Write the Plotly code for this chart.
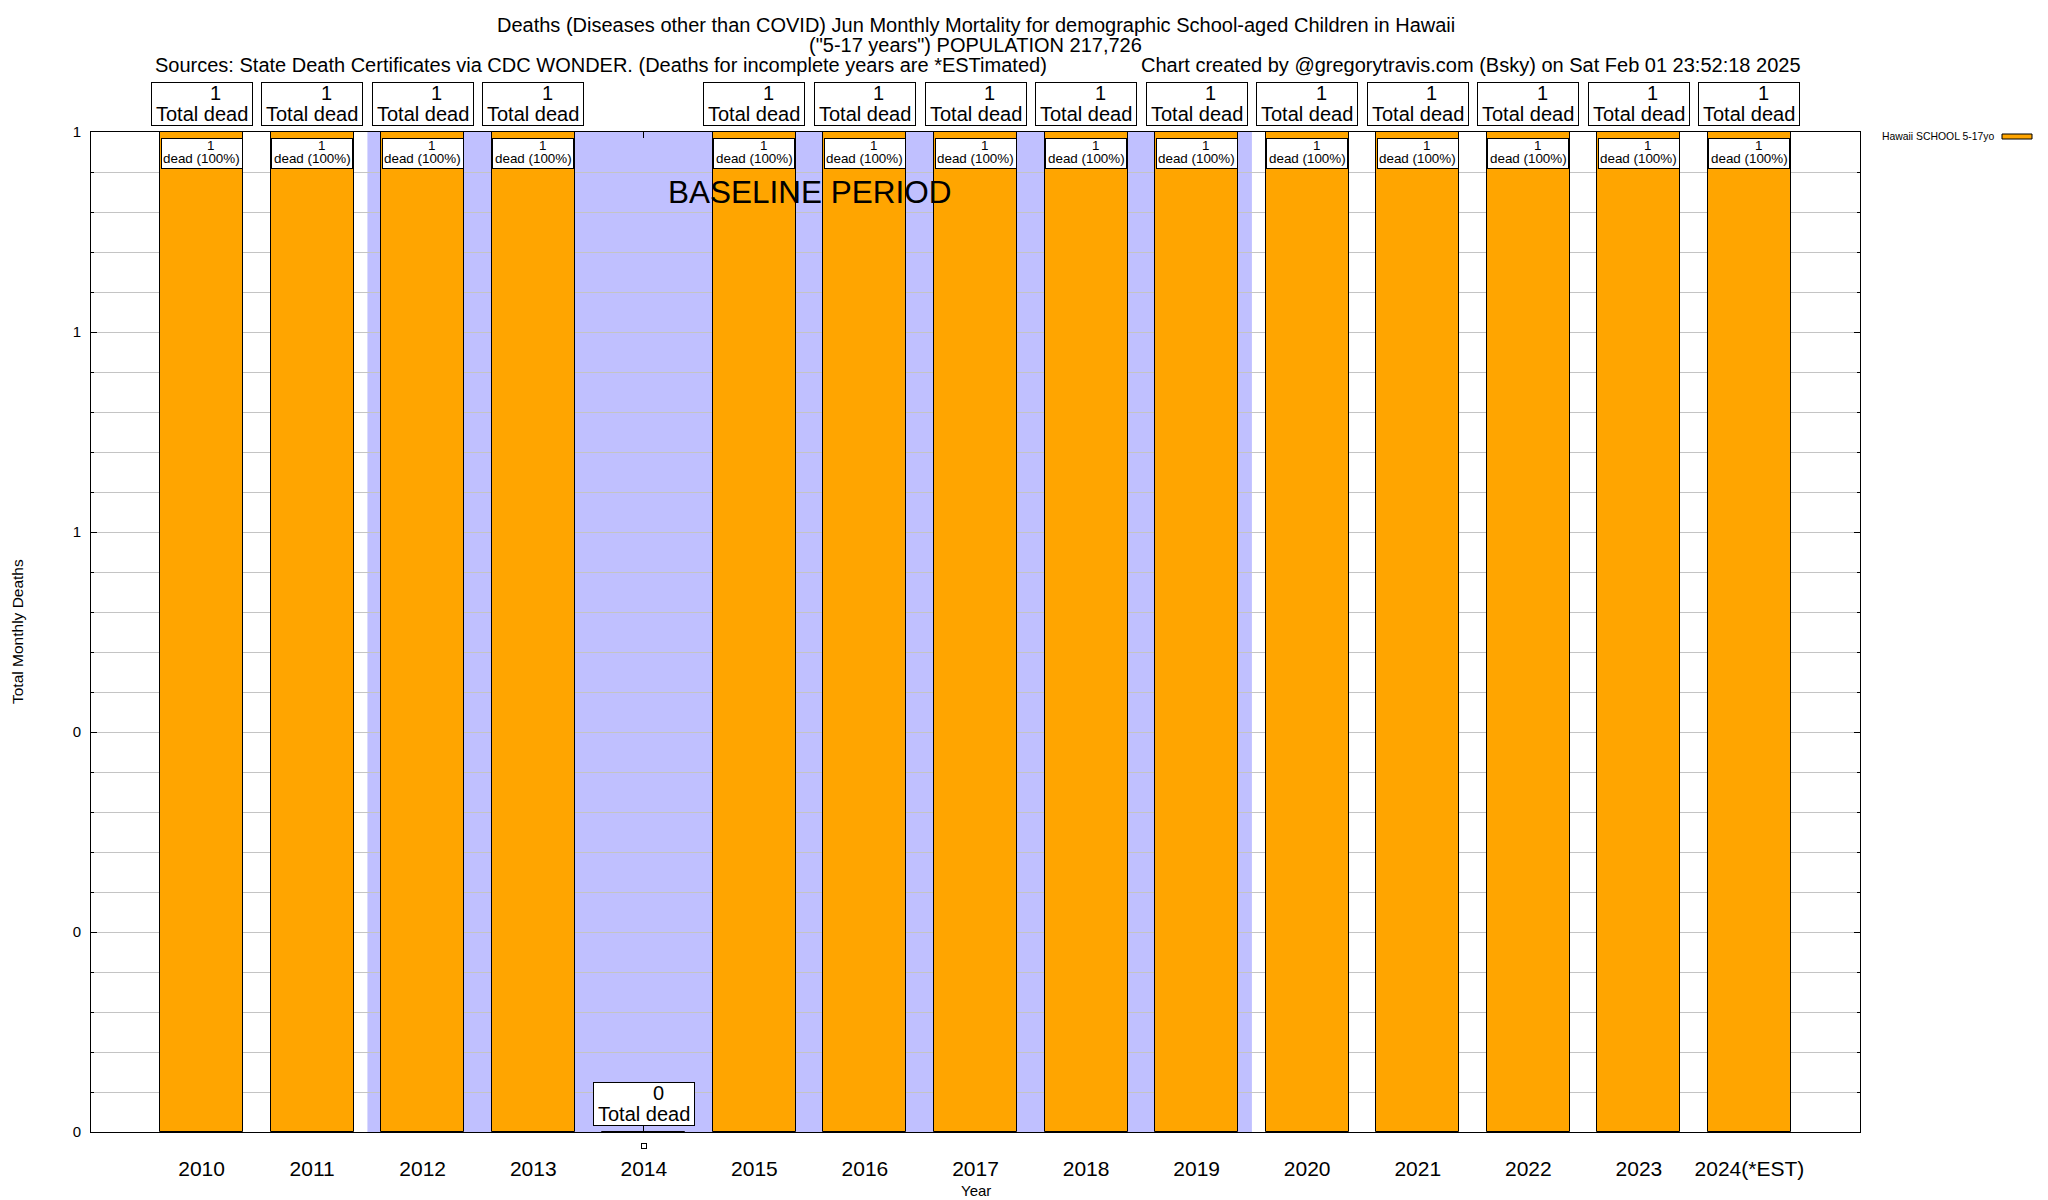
import plotly.graph_objects as go

# ---------------- data ----------------
years = [2010, 2011, 2012, 2013, 2014, 2015, 2016, 2017, 2018, 2019, 2020, 2021, 2022, 2023, 2024]
year_labels = ["2010", "2011", "2012", "2013", "2014", "2015", "2016", "2017", "2018", "2019",
               "2020", "2021", "2022", "2023", "2024(*EST)"]
deaths = [1, 1, 1, 1, 0, 1, 1, 1, 1, 1, 1, 1, 1, 1, 1]
pct_labels = ["100%", "100%", "100%", "100%", "", "100%", "100%", "100%", "100%", "100%",
              "100%", "100%", "100%", "100%", "100%"]
baseline_first_year = 2012
baseline_last_year = 2019
series_name = "Hawaii SCHOOL 5-17yo"
title_line1 = "Deaths (Diseases other than COVID) Jun Monthly Mortality for demographic School-aged Children in Hawaii"
title_line2 = "(\"5-17 years\") POPULATION 217,726"
title_left3 = "Sources: State Death Certificates via CDC WONDER. (Deaths for incomplete years are *ESTimated)"
title_right3 = "Chart created by @gregorytravis.com (Bsky) on Sat Feb 01 23:52:18 2025"

# ---------------- style ----------------
FONT = "Liberation Sans, Arial, Helvetica, sans-serif"
ORANGE = "#FFA500"
BLUE = "#C0C0FF"
GRID = "#C4C4C4"
BAR_W = 0.75
W, H = 2048, 1200
ML, MR, MT, MB = 91, 188, 132, 68
PW, PH = W - ML - MR, H - MT - MB


def px(xp):
    return (xp - ML) / PW


def py(yp):
    return (H - MB - yp) / PH


fig = go.Figure()
fig.add_trace(go.Bar(
    x=years, y=deaths, width=BAR_W, name=series_name,
    marker=dict(color=ORANGE, line=dict(color="black", width=1)),
    showlegend=False, hoverinfo="skip",
))

# baseline shading
fig.add_shape(type="rect", xref="x", yref="paper",
              x0=baseline_first_year - 0.5, x1=baseline_last_year + 0.5, y0=0, y1=1,
              fillcolor=BLUE, line=dict(width=0), layer="below")

annotations = []


def box(x, y, yanchor, yshift, w, h):
    return dict(x=x, y=y, xref="x", yref="y", yanchor=yanchor, yshift=yshift,
                text=" ", showarrow=False, font=dict(size=1),
                bgcolor="white", bordercolor="black", borderwidth=1, borderpad=0,
                width=w, height=h)


def txt(x, y, text, size, yshift, xshift=0):
    return dict(x=x, y=y, xref="x", yref="y", yanchor="middle", xanchor="center",
                yshift=yshift, xshift=xshift, text=text, showarrow=False,
                font=dict(family=FONT, size=size, color="black"))


for yr, d, p in zip(years, deaths, pct_labels):
    # "N / Total dead" box (above the plot for non-zero, on the axis for zero)
    annotations.append(box(yr, d, "bottom", 6, 100, 42))
    annotations.append(txt(yr, d, str(d), 20, 39, 14 if d > 0 else 15))
    annotations.append(txt(yr, d, "Total dead", 20, 18))
    if d > 0:
        annotations.append(box(yr, d, "top", -6, 80, 29))
        annotations.append(txt(yr, d, str(d), 13.4, -13, 9))
        annotations.append(txt(yr, d, f"dead ({p})", 13.4, -26))
    else:
        annotations.append(dict(
            x=yr, y=d, xref="x", yref="y", yanchor="middle", yshift=-14,
            text=" ", showarrow=False, font=dict(size=1),
            bgcolor="white", bordercolor="black", borderwidth=1, borderpad=0,
            width=4, height=4,
        ))

# baseline period label
annotations.append(dict(
    x=(baseline_first_year + baseline_last_year) / 2, y=py(192), xref="x", yref="paper",
    text="BASELINE PERIOD", showarrow=False, yanchor="middle", xanchor="center",
    font=dict(family=FONT, size=31.5, color="black"),
))

# titles
annotations += [
    dict(x=0.5, y=py(25), xref="paper", yref="paper", text=title_line1, showarrow=False,
         xanchor="center", yanchor="middle", font=dict(family=FONT, size=20, color="black")),
    dict(x=0.5, y=py(45), xref="paper", yref="paper", text=title_line2, showarrow=False,
         xanchor="center", yanchor="middle", font=dict(family=FONT, size=20, color="black")),
    dict(x=px(153), y=py(65), xref="paper", yref="paper", text=title_left3, showarrow=False,
         xanchor="left", yanchor="middle", font=dict(family=FONT, size=20, color="black")),
    dict(x=px(1139), y=py(65), xref="paper", yref="paper", text=title_right3, showarrow=False,
         xanchor="left", yanchor="middle", font=dict(family=FONT, size=20, color="black")),
    # axis titles
    dict(x=px(17), y=0.5, xref="paper", yref="paper", text="Total Monthly Deaths", showarrow=False,
         textangle=-90, xanchor="center", yanchor="middle",
         font=dict(family=FONT, size=15.5, color="black")),
    dict(x=0.5, y=py(1190), xref="paper", yref="paper", text="Year", showarrow=False,
         xanchor="center", yanchor="middle", font=dict(family=FONT, size=15, color="black")),
    # legend text
    dict(x=px(1996), y=py(136), xref="paper", yref="paper", text=series_name, showarrow=False,
         xanchor="right", yanchor="middle", font=dict(family=FONT, size=10.4, color="black")),
]

# legend swatch
fig.add_shape(type="rect", xref="paper", yref="paper",
              x0=px(2002), x1=px(2032), y0=py(139), y1=py(134),
              fillcolor=ORANGE, line=dict(color="black", width=1))

fig.update_layout(
    width=W, height=H,
    margin=dict(l=ML, r=MR, t=MT, b=MB, pad=0),
    paper_bgcolor="white", plot_bgcolor="white",
    font=dict(family=FONT, color="black"),
    showlegend=False,
    bargap=0,
    annotations=annotations,
)

fig.update_xaxes(
    range=[years[0] - 1, years[-1] + 1],
    tickmode="array", tickvals=years, ticktext=year_labels,
    tickfont=dict(family=FONT, size=21, color="black"),
    ticks="inside", ticklen=6, tickcolor="black", tickwidth=1,
    showline=True, linecolor="black", linewidth=1, mirror="allticks",
    showgrid=False, zeroline=False, layer="below traces",
    ticklabelstandoff=18,
)
fig.update_yaxes(
    range=[0, 1], dtick=0.2, tick0=0, tickformat=".0f",
    tickfont=dict(family=FONT, size=15, color="black"),
    ticks="inside", ticklen=6, tickcolor="black", tickwidth=1,
    showline=True, linecolor="black", linewidth=1, mirror="allticks",
    showgrid=True, gridcolor=GRID, gridwidth=1, zeroline=False,
    layer="below traces", ticklabelstandoff=6,
    minor=dict(dtick=0.04, ticks="inside", ticklen=3, tickcolor="black",
               showgrid=True, gridcolor=GRID, gridwidth=1),
)

fig.write_html("out.html", config={"displayModeBar": False},
               post_script="document.body.style.margin='0';")
